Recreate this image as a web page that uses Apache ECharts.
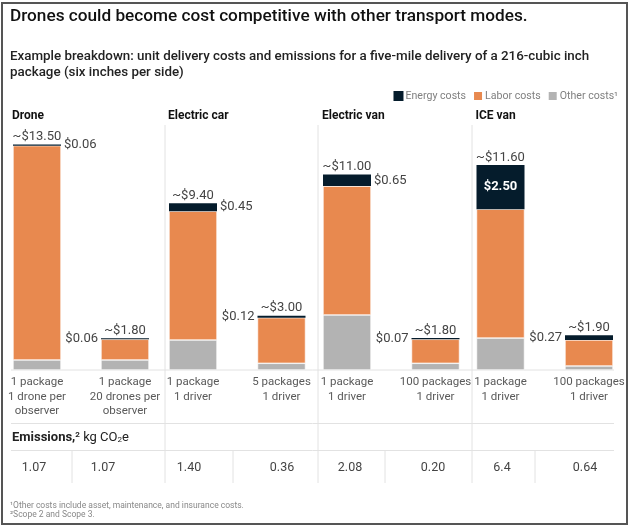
<!DOCTYPE html>
<html>
<head>
<meta charset="utf-8">
<script src="https://cdn.jsdelivr.net/npm/echarts@6/dist/echarts.min.js"></script>
<style>
  html, body { margin: 0; padding: 0; background: #fff; }
  #chart { width: 629px; height: 526px; }
</style>
</head>
<body>
<div id="chart"></div>
<script>
// data
var modes = ['Drone', 'Electric car', 'Electric van', 'ICE van'];
var scenarios = [
  '1 package\n1 drone per\nobserver', '1 package\n20 drones per\nobserver',
  '1 package\n1 driver', '5 packages\n1 driver',
  '1 package\n1 driver', '100 packages\n1 driver',
  '1 package\n1 driver', '100 packages\n1 driver'
];
var energy = [0.06, 0.06, 0.45, 0.12, 0.65, 0.07, 2.50, 0.27];
var labor = [12.14, 1.17, 7.3, 2.58, 7.3, 1.36, 7.3, 1.47];
var other = [0.57, 0.57, 1.70, 0.38, 3.12, 0.38, 1.81, 0.23];
var totals = [13.50, 1.80, 9.40, 3.00, 11.00, 1.80, 11.60, 1.90];
var emissions = ['1.07', '1.07', '1.40', '0.36', '2.08', '0.20', '6.4', '0.64'];

var TITLE = 'Drones could become cost competitive with other transport modes.';
var SUB1 = 'Example breakdown: unit delivery costs and emissions for a five-mile delivery of a 216-cubic inch';
var SUB2 = 'package (six inches per side)';

var C_ENERGY = '#051c2c', C_LABOR = '#e8894f', C_OTHER = '#b3b3b3';
var FONT = 'Roboto';

// layout
var barCenters = [[37, 125], [193, 281.5], [347, 435.5], [500.5, 589]];
var base = 370, pxPerUnit = 17.65, yMax = 14;
var emX = [34, 103, 189, 282, 350, 433, 502, 585];

// font size that makes a text span a given width
var ctx = document.createElement('canvas').getContext('2d');
function fitSize(text, weight, width) {
  ctx.font = weight + ' 100px ' + FONT;
  return 100 * width / ctx.measureText(text).width;
}
var titleSize = fitSize(TITLE, 500, 518);
var subSize = fitSize(SUB1, 500, 580);

var chart = echarts.init(document.getElementById('chart'));

var grids = [], xAxes = [], yAxes = [], series = [], graphics = [];

modes.forEach(function (m, p) {
  var c = barCenters[p];
  grids.push({ left: c[0], width: c[1] - c[0], top: base - yMax * pxPerUnit, height: yMax * pxPerUnit });
  xAxes.push({
    type: 'category', gridIndex: p, boundaryGap: false,
    data: [scenarios[p * 2], scenarios[p * 2 + 1]],
    axisLine: { show: false }, axisTick: { show: false },
    axisLabel: { margin: 5, fontSize: 11.5, lineHeight: 14.5, color: '#5a5a5a', fontFamily: FONT, interval: 0 }
  });
  yAxes.push({ type: 'value', gridIndex: p, min: 0, max: yMax, show: false });

  var pick = function (arr) { return [arr[p * 2], arr[p * 2 + 1]]; };
  var common = { type: 'bar', xAxisIndex: p, yAxisIndex: p, stack: 's' + p, barWidth: 48,
    itemStyle: { borderColor: '#fff', borderWidth: 0.6 } };

  series.push(Object.assign({}, common, { name: 'Other costs¹', data: pick(other),
    itemStyle: Object.assign({}, common.itemStyle, { color: C_OTHER }) }));
  series.push(Object.assign({}, common, { name: 'Labor costs', data: pick(labor),
    itemStyle: Object.assign({}, common.itemStyle, { color: C_LABOR }) }));

  var eData = pick(energy).map(function (v, k) {
    var inside = v > 1;
    return {
      value: v,
      label: {
        show: true,
        position: inside ? 'inside' : (k === 0 ? 'right' : 'left'),
        distance: 3,
        formatter: '$' + v.toFixed(2),
        color: inside ? '#fff' : '#444',
        fontWeight: inside ? 'bold' : 'normal',
        fontSize: 13, fontFamily: FONT
      }
    };
  });
  series.push(Object.assign({}, common, { name: 'Energy costs', data: eData,
    itemStyle: { color: C_ENERGY, borderWidth: 0 } }));

  // zero-height bar on top of the stack carrying the total label
  series.push(Object.assign({}, common, { name: 'total', data: [0, 0],
    itemStyle: { color: 'transparent', borderWidth: 0 },
    label: { show: true, position: 'top', distance: 1, fontSize: 13, color: '#444', fontFamily: FONT,
      formatter: function (d) { return '~$' + totals[p * 2 + d.dataIndex].toFixed(2); } } }));

  graphics.push({ type: 'text', x: c[0] - 25, y: 116,
    style: { text: m, font: 'bold 12px ' + FONT, fill: '#111', verticalAlign: 'middle' } });
});

// panel separators and table rules
[165, 318, 472].forEach(function (x) {
  graphics.push({ type: 'line', shape: { x1: x, y1: 125, x2: x, y2: 483 }, style: { stroke: '#e2e2e2', lineWidth: 1 } });
});
[370, 423.5, 450.5].forEach(function (y) {
  graphics.push({ type: 'line', shape: { x1: 11, y1: y, x2: 614, y2: y }, style: { stroke: '#e2e2e2', lineWidth: 1 } });
});
[72, 233, 385, 535].forEach(function (x) {
  graphics.push({ type: 'line', shape: { x1: x, y1: 451, x2: x, y2: 483 }, style: { stroke: '#e2e2e2', lineWidth: 1 } });
});

graphics.push({ type: 'text', left: 12, top: 431,
  style: { text: '{b|Emissions,}{s|2} kg CO{u|2}e', font: '13px ' + FONT, fill: '#222',
    rich: {
      b: { fontWeight: 'bold', fontSize: 13, fontFamily: FONT, fill: '#222' },
      s: { fontWeight: 'bold', fontSize: 8, fontFamily: FONT, verticalAlign: 'top', fill: '#222' },
      u: { fontSize: 8, fontFamily: FONT, verticalAlign: 'bottom', fill: '#222' }
    } } });

emissions.forEach(function (e, i) {
  graphics.push({ type: 'text', x: emX[i], y: 468,
    style: { text: e, font: '12.5px ' + FONT, fill: '#444', align: 'center', verticalAlign: 'middle' } });
});

graphics.push({ type: 'text', left: 10, top: 501,
  style: { text: '¹Other costs include asset, maintenance, and insurance costs.\n²Scope 2 and Scope 3.',
    font: '8.5px ' + FONT, fill: '#888', lineHeight: 9 } });

// headings
graphics.push({ type: 'text', x: 10, y: 17,
  style: { text: TITLE, font: '500 ' + titleSize + 'px ' + FONT, fill: '#111', verticalAlign: 'middle' } });
graphics.push({ type: 'text', x: 10, y: 57,
  style: { text: SUB1, font: '500 ' + subSize + 'px ' + FONT, fill: '#222', verticalAlign: 'middle' } });
graphics.push({ type: 'text', x: 10, y: 73,
  style: { text: SUB2, font: '500 ' + subSize + 'px ' + FONT, fill: '#222', verticalAlign: 'middle' } });

graphics.push({ type: 'rect', shape: { x: 2, y: 3, width: 625, height: 521 },
  style: { fill: 'none', stroke: '#555', lineWidth: 2 } });

chart.setOption({
  animation: false,
  legend: {
    data: ['Energy costs', 'Labor costs', 'Other costs¹'],
    right: 11, top: 90, padding: 0, icon: 'rect', itemWidth: 10, itemHeight: 10, itemGap: 6,
    textStyle: { fontSize: 10.6, color: '#808080', fontFamily: FONT, padding: [0, 0, 0, -3] }
  },
  grid: grids,
  xAxis: xAxes,
  yAxis: yAxes,
  series: series,
  graphic: graphics
});
</script>
</body>
</html>
